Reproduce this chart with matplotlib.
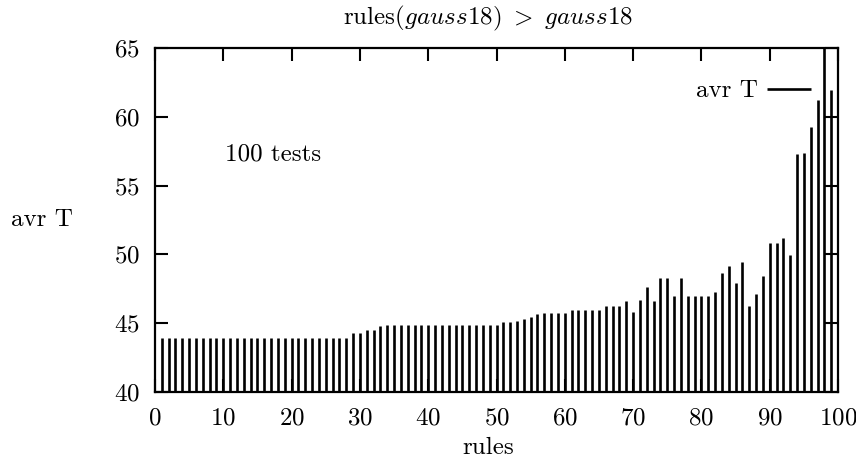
"""Average T per rule, gnuplot-style impulse chart."""

import matplotlib

matplotlib.use("Agg")
import matplotlib.pyplot as plt

plt.rcParams["font.family"] = "serif"
plt.rcParams["font.serif"] = ["cmr10"]
plt.rcParams["mathtext.fontset"] = "cm"
plt.rcParams["axes.formatter.use_mathtext"] = True

# rule index 1..99 and the average T
rules = list(range(1, 100))
avr_t = (
    [43.9] * 28
    + [44.3, 44.3, 44.5, 44.5, 44.8]
    + [44.87] * 17
    + [45.07, 45.07, 45.16, 45.3, 45.45, 45.64, 45.74, 45.74, 45.74, 45.74]
    + [45.96, 45.96, 45.96, 45.96, 45.96]
    + [46.25, 46.25, 46.25, 46.61, 45.81, 46.69, 47.63, 46.61, 48.28, 48.28]
    + [46.98, 48.28, 46.98, 46.98, 46.98, 46.98, 47.27, 48.65, 49.16, 47.95]
    + [49.45, 46.25, 47.12, 48.43, 50.85, 50.85, 51.19, 49.96, 57.3, 57.35]
    + [59.26, 61.2, 70.0, 61.95]
)
xticks = list(range(0, 101, 10))
yticks = list(range(40, 66, 5))

fig = plt.figure(figsize=(8.56, 4.63), dpi=100)
ax = fig.add_axes([155 / 856, 1 - 392 / 463, 683 / 856, 344 / 463])

ax.vlines(rules, 40, avr_t, colors="black", linewidth=1.9, label="avr T")

ax.set_xlim(0, 100)
ax.set_ylim(40, 65)
ax.set_xticks(xticks)
ax.set_yticks(yticks)
ax.tick_params(
    direction="in", length=9.5, width=1.5, labelsize=18,
    top=True, right=True, pad=11,
)
for s in ax.spines.values():
    s.set_linewidth(1.6)

ax.text(10.2, 57.3, "100 tests", fontsize=18, va="center", ha="left")

ax.legend(
    loc="center right", bbox_to_anchor=(0.960, 0.875), frameon=False,
    markerfirst=False, fontsize=18, handlelength=1.75, handletextpad=0.35,
    borderpad=0, borderaxespad=0,
)

fig.text(488 / 856, 1 - 18 / 463, r"rules$(gauss18)\ >\ gauss18$",
         fontsize=18, ha="center", va="center")
fig.text(488 / 856, 1 - 448 / 463, "rules", fontsize=18, ha="center", va="center")
fig.text(42 / 856, 1 - 220 / 463, "avr T", fontsize=18, ha="center", va="center")

fig.savefig("out.png", dpi=100)
